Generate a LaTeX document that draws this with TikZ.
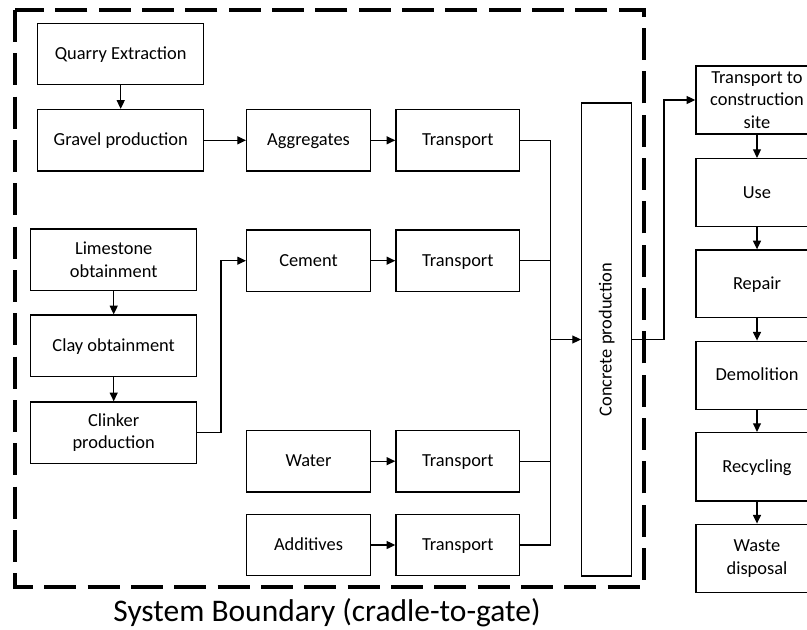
\documentclass[tikz,border=0pt]{standalone}
\usepackage{fontspec}
\setmainfont{Carlito}
\usetikzlibrary{arrows.meta,calc}
\tikzset{
  box/.style={draw,line width=1.1pt,align=center,inner sep=2pt,
    font=\fontsize{13.8}{17}\selectfont},
  one/.style={text height=1.05em,text depth=0.25em},
  sz/.style 2 args={minimum width=#1*0.75pt,minimum height=#2*0.75pt},
  link/.style={line width=0.9pt},
  flow/.style={line width=0.9pt,-{Triangle[length=6.5pt,width=6pt]}},
  boundary/.style={line width=3pt,dash pattern=on 24pt off 8.5pt}
}
\begin{document}
\begin{tikzpicture}[x=0.75pt,y=-0.75pt]
\useasboundingbox (0,0) rectangle (807,629);
\clip (0,0) rectangle (807,629);

% system boundary
\draw[boundary] (14.7,10) rectangle (644,587);
\node[font=\fontsize{23.6}{28}\selectfont,anchor=base] (caption) at (327,621.7)
  {System Boundary (cradle-to-gate)};

% aggregate chain
\node[box,one,sz={166}{61.4}] (quarry) at (120.7,54) {Quarry Extraction};
\node[box,one,sz={166}{61.4}] (gravel) at (120.7,140.3) {Gravel production};
\node[box,one,sz={123.6}{61.4}] (agg) at (308.5,140.3) {Aggregates};
\node[box,one,sz={123.6}{61.4}] (tr1) at (457.8,140.3) {Transport};

% cement chain
\node[box,sz={166}{61.4}] (lime) at (113.7,259.7) {Limestone\\obtainment};
\node[box,one,sz={166}{61.4}] (clay) at (113.7,345.8) {Clay obtainment};
\node[box,sz={166}{61.4}] (clinker) at (113.7,432.7) {Clinker\\production};
\node[box,one,sz={123.6}{61.4}] (cement) at (308.5,260.7) {Cement};
\node[box,one,sz={123.6}{61.4}] (tr2) at (457.8,260.7) {Transport};

% water and additives
\node[box,one,sz={123.6}{61.4}] (water) at (308.5,461.2) {Water};
\node[box,one,sz={123.6}{61.4}] (tr3) at (457.8,461.2) {Transport};
\node[box,one,sz={123.6}{61.4}] (add) at (308.5,545) {Additives};
\node[box,one,sz={123.6}{61.4}] (tr4) at (457.8,545) {Transport};

% concrete production
\node[box,sz={50}{473}] (concrete) at (606.7,339.5) {};
\node[rotate=90,font=\fontsize{13.8}{17}\selectfont] (concretelabel)
  at (concrete.center) {Concrete production};

% downstream life cycle
\node[box,sz={122}{68}] (tcs) at (757,100) {Transport to\\construction\\site};
\node[box,one,sz={122}{68}] (use) at (757,192.7) {Use};
\node[box,one,sz={122}{67.3}] (repair) at (757,283.7) {Repair};
\node[box,one,sz={122}{68}] (demo) at (757,375.3) {Demolition};
\node[box,one,sz={122}{68.3}] (recy) at (757,466.8) {Recycling};
\node[box,sz={122}{68.4}] (waste) at (757,558.5) {Waste\\disposal};

% connectors
\draw[flow] (quarry) -- (gravel);
\draw[flow] (gravel) -- (agg);
\draw[flow] (agg) -- (tr1);
\draw[flow] (lime) -- (clay);
\draw[flow] (clay) -- (clinker);
\coordinate (cturn) at (221,0);
\draw[flow] (clinker.east) -| (cturn |- cement.west) -- (cement.west);
\draw[flow] (cement) -- (tr2);
\draw[flow] (water) -- (tr3);
\draw[flow] (add) -- (tr4);

% collector bus into concrete production
\coordinate (bus) at (550.7,0);
\draw[link] (tr1.east) -- (tr1.east -| bus) -- (tr4.east -| bus) -- (tr4.east);
\draw[link] (tr2.east) -- (tr2.east -| bus);
\draw[link] (tr3.east) -- (tr3.east -| bus);
\draw[flow] (concrete.west -| bus) -- (concrete.west);

% concrete to site
\coordinate (oturn) at (664,0);
\draw[flow] (concrete.east) -- (concrete.east -| oturn) -- (oturn |- tcs.west) -- (tcs.west);

\draw[flow] (tcs) -- (use);
\draw[flow] (use) -- (repair);
\draw[flow] (repair) -- (demo);
\draw[flow] (demo) -- (recy);
\draw[flow] (recy) -- (waste);
\end{tikzpicture}
\end{document}
